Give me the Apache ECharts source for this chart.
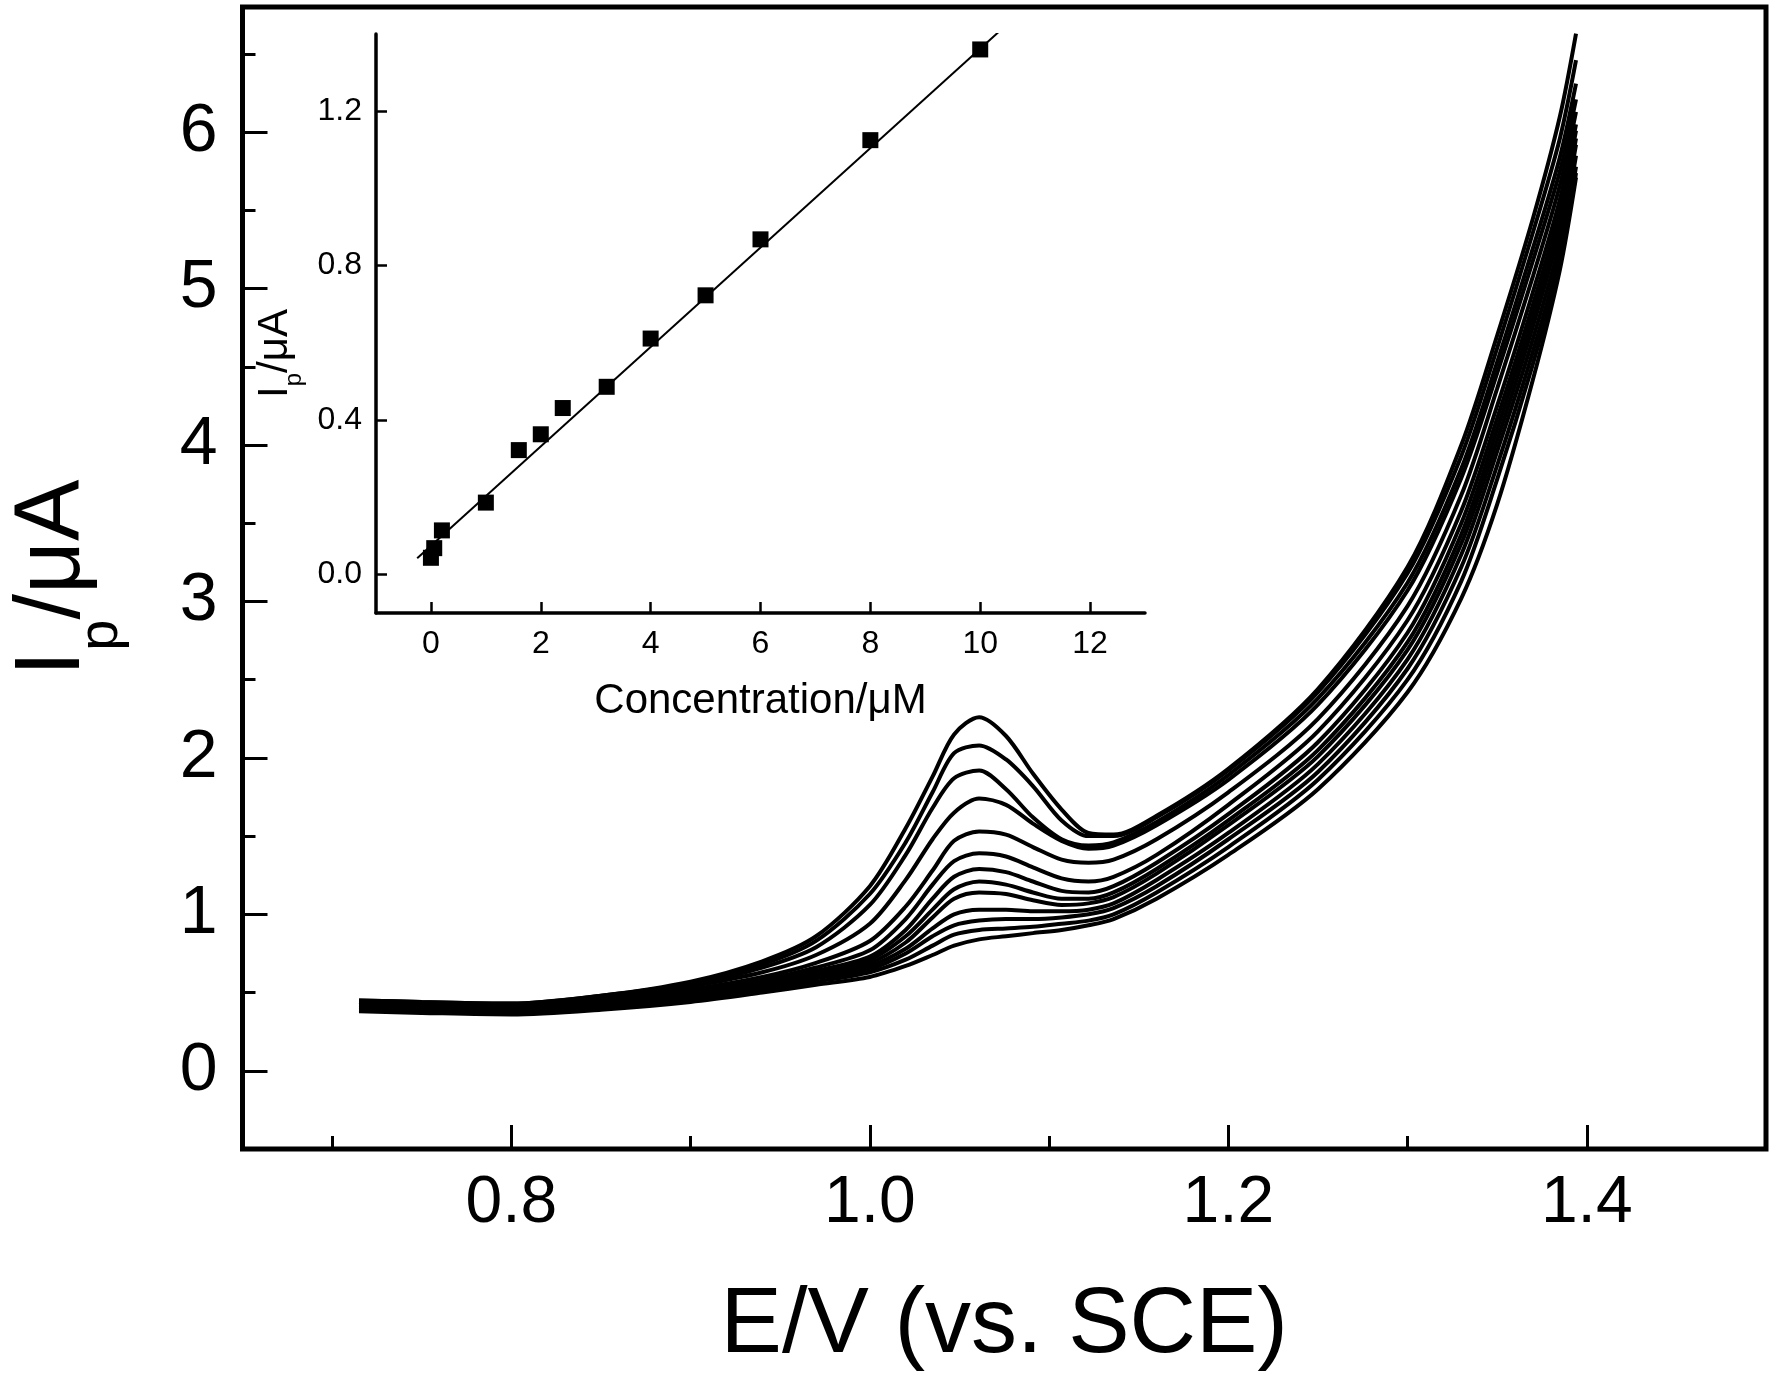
<!DOCTYPE html>
<html>
<head>
    <meta charset="utf-8">
    <title>DPV curves</title>
    <script src="https://cdn.jsdelivr.net/npm/echarts@6/dist/echarts.min.js"></script>
    <style>
        html, body { margin: 0; padding: 0; background: #fff; }
    </style>
</head>
<body>
    <div id="chart" style="width: 1772px; height: 1381px;"></div>

    <script>
        // potential grid (V vs. SCE)
        var potentials = [0.715, 0.75, 0.80, 0.85, 0.90, 0.94, 0.97, 1.00, 1.02, 1.035, 1.047, 1.061, 1.076,
            1.091, 1.107, 1.122, 1.136, 1.16, 1.20, 1.25, 1.30, 1.33, 1.35, 1.37, 1.385, 1.394];

        // peak currents (uA), one row per scan, highest concentration first
        var currentCurves = [
            [0.45, 0.44, 0.43, 0.48, 0.57, 0.70, 0.86, 1.18, 1.55, 1.88, 2.15, 2.26, 2.14, 1.90, 1.67, 1.52, 1.51, 1.63, 1.93, 2.44, 3.22, 4.00, 4.70, 5.45, 6.10, 6.63],
            [0.45, 0.44, 0.43, 0.48, 0.56, 0.68, 0.83, 1.13, 1.46, 1.78, 2.03, 2.08, 1.99, 1.82, 1.60, 1.50, 1.50, 1.62, 1.92, 2.42, 3.18, 3.93, 4.62, 5.36, 5.96, 6.46],
            [0.44, 0.43, 0.42, 0.47, 0.55, 0.66, 0.79, 1.06, 1.38, 1.68, 1.87, 1.92, 1.80, 1.62, 1.48, 1.44, 1.46, 1.59, 1.89, 2.38, 3.12, 3.85, 4.53, 5.26, 5.84, 6.31],
            [0.44, 0.43, 0.42, 0.46, 0.54, 0.63, 0.74, 0.94, 1.22, 1.48, 1.65, 1.74, 1.70, 1.58, 1.47, 1.42, 1.44, 1.57, 1.86, 2.34, 3.07, 3.79, 4.46, 5.18, 5.75, 6.21],
            [0.43, 0.42, 0.41, 0.45, 0.52, 0.60, 0.69, 0.83, 1.05, 1.28, 1.47, 1.53, 1.51, 1.43, 1.35, 1.33, 1.35, 1.48, 1.78, 2.25, 2.97, 3.68, 4.36, 5.08, 5.66, 6.13],
            [0.43, 0.42, 0.40, 0.44, 0.51, 0.58, 0.66, 0.77, 0.97, 1.19, 1.34, 1.39, 1.37, 1.30, 1.23, 1.21, 1.24, 1.38, 1.70, 2.17, 2.88, 3.58, 4.25, 4.98, 5.57, 6.05],
            [0.42, 0.41, 0.40, 0.43, 0.50, 0.57, 0.64, 0.73, 0.90, 1.10, 1.24, 1.29, 1.27, 1.21, 1.15, 1.14, 1.18, 1.33, 1.64, 2.10, 2.80, 3.50, 4.17, 4.90, 5.50, 6.01],
            [0.42, 0.41, 0.39, 0.43, 0.49, 0.56, 0.62, 0.71, 0.86, 1.03, 1.16, 1.21, 1.19, 1.14, 1.10, 1.10, 1.14, 1.29, 1.60, 2.05, 2.74, 3.43, 4.10, 4.83, 5.44, 5.96],
            [0.41, 0.40, 0.39, 0.42, 0.48, 0.55, 0.61, 0.69, 0.82, 0.98, 1.10, 1.14, 1.13, 1.09, 1.06, 1.07, 1.11, 1.26, 1.57, 2.01, 2.69, 3.37, 4.03, 4.76, 5.38, 5.92],
            [0.40, 0.39, 0.38, 0.41, 0.47, 0.54, 0.60, 0.67, 0.78, 0.91, 1.00, 1.03, 1.03, 1.02, 1.02, 1.03, 1.07, 1.22, 1.52, 1.96, 2.63, 3.30, 3.96, 4.68, 5.30, 5.85],
            [0.40, 0.39, 0.37, 0.40, 0.46, 0.53, 0.59, 0.65, 0.75, 0.86, 0.93, 0.96, 0.97, 0.97, 0.98, 1.00, 1.04, 1.18, 1.48, 1.91, 2.57, 3.22, 3.87, 4.60, 5.22, 5.78],
            [0.39, 0.38, 0.37, 0.40, 0.45, 0.52, 0.57, 0.63, 0.71, 0.80, 0.87, 0.90, 0.91, 0.92, 0.94, 0.96, 1.00, 1.14, 1.43, 1.86, 2.50, 3.13, 3.78, 4.52, 5.16, 5.74],
            [0.38, 0.37, 0.36, 0.39, 0.44, 0.50, 0.55, 0.60, 0.67, 0.74, 0.80, 0.84, 0.86, 0.88, 0.90, 0.93, 0.97, 1.10, 1.38, 1.80, 2.42, 3.02, 3.62, 4.42, 5.12, 5.71]
        ];

        // inset: calibration points
        var concentrations = [0, 0.06, 0.2, 1, 1.6, 2, 2.4, 3.2, 4, 5, 6, 8, 10];
        var peakCurrents = [0.043, 0.068, 0.114, 0.186, 0.322, 0.363, 0.431, 0.486, 0.611, 0.723, 0.868, 1.125, 1.360];
        // fitted line, end points
        var fitX = [-0.25, 10.45];
        var fitY = [0.042, 1.42];

        // tick values
        var mainXTicks = [0.8, 1.0, 1.2, 1.4];
        var mainXMinor = [0.7, 0.9, 1.1, 1.3];
        var mainYTicks = [0, 1, 2, 3, 4, 5, 6];
        var mainYMinor = [0.5, 1.5, 2.5, 3.5, 4.5, 5.5, 6.5];
        var insetXTicks = [0, 2, 4, 6, 8, 10, 12];
        var insetYTicks = [0, 0.4, 0.8, 1.2];

        var FONT = 'Liberation Sans, Arial, sans-serif';

        var chart = echarts.init(document.getElementById('chart'), null, { renderer: 'canvas' });

        function pairs(xs, ys) {
            return xs.map(function (x, i) { return [x, ys[i]]; });
        }

        var series = currentCurves.map(function (row) {
            return {
                type: 'line',
                xAxisIndex: 0,
                yAxisIndex: 0,
                data: pairs(potentials, row),
                showSymbol: false,
                smooth: 0.3,
                lineStyle: { color: '#000', width: 4 },
                silent: true
            };
        });

        series.push({
            type: 'line',
            xAxisIndex: 2,
            yAxisIndex: 2,
            data: pairs(fitX, fitY),
            showSymbol: false,
            lineStyle: { color: '#000', width: 2 },
            silent: true
        });
        series.push({
            type: 'scatter',
            xAxisIndex: 2,
            yAxisIndex: 2,
            data: pairs(concentrations, peakCurrents),
            symbol: 'rect',
            symbolSize: 16,
            itemStyle: { color: '#000', opacity: 1 },
            silent: true
        });

        var option = {
            animation: false,
            backgroundColor: '#fff',
            grid: [
                {
                    left: 226, right: 6, top: 7, bottom: 232,
                    show: true, borderColor: '#000', borderWidth: 5,
                    backgroundColor: 'transparent'
                },
                { left: 376, top: 34, width: 769, height: 579 }
            ],
            xAxis: [
                {
                    type: 'value', gridIndex: 0, min: 0.65, max: 1.5, position: 'bottom',
                    axisLine: { show: false, onZero: false },
                    splitLine: { show: false },
                    axisTick: { show: true, inside: true, length: 24, customValues: mainXTicks, lineStyle: { color: '#000', width: 3 } },
                    axisLabel: {
                        customValues: mainXTicks, margin: 22, color: '#000', fontSize: 66, fontFamily: FONT,
                        formatter: function (v) { return v.toFixed(1); }
                    },
                    name: 'E/V (vs. SCE)', nameLocation: 'middle', nameGap: 132,
                    nameTextStyle: { color: '#000', fontSize: 92, fontFamily: FONT }
                },
                {
                    type: 'value', gridIndex: 0, min: 0.65, max: 1.5, position: 'bottom',
                    axisLine: { show: false, onZero: false },
                    splitLine: { show: false },
                    axisTick: { show: true, inside: true, length: 13, customValues: mainXMinor, lineStyle: { color: '#000', width: 3 } },
                    axisLabel: { show: false }
                },
                {
                    type: 'value', gridIndex: 1, min: -1, max: 13, position: 'bottom',
                    axisLine: { show: true, onZero: false, lineStyle: { color: '#000', width: 3.5 } },
                    splitLine: { show: false },
                    axisTick: { show: true, inside: true, length: 11, customValues: insetXTicks, lineStyle: { color: '#000', width: 2.5 } },
                    axisLabel: { customValues: insetXTicks, margin: 15, color: '#000', fontSize: 32, fontFamily: FONT },
                    name: 'Concentration/μM', nameLocation: 'middle', nameGap: 67,
                    nameTextStyle: { color: '#000', fontSize: 42, fontFamily: FONT }
                }
            ],
            yAxis: [
                {
                    type: 'value', gridIndex: 0, min: -0.5, max: 6.8, position: 'left',
                    axisLine: { show: false, onZero: false },
                    splitLine: { show: false },
                    axisTick: { show: true, inside: true, length: 25, customValues: mainYTicks, lineStyle: { color: '#000', width: 3 } },
                    axisLabel: { customValues: mainYTicks, margin: 25, color: '#000', fontSize: 68, fontFamily: FONT },
                    name: '{a|I}{b|p}{a|/μA}', nameLocation: 'middle', nameRotate: 90, nameGap: 113,
                    nameTextStyle: {
                        color: '#000', fontFamily: FONT,
                        rich: {
                            a: { fontSize: 92, lineHeight: 151, fontFamily: FONT, color: '#000' },
                            b: { fontSize: 56, lineHeight: 151, verticalAlign: 'bottom', fontFamily: FONT, color: '#000' }
                        }
                    }
                },
                {
                    type: 'value', gridIndex: 0, min: -0.5, max: 6.8, position: 'left',
                    axisLine: { show: false, onZero: false },
                    splitLine: { show: false },
                    axisTick: { show: true, inside: true, length: 13, customValues: mainYMinor, lineStyle: { color: '#000', width: 3 } },
                    axisLabel: { show: false }
                },
                {
                    type: 'value', gridIndex: 1, min: -0.1, max: 1.4, position: 'left',
                    axisLine: { show: true, onZero: false, lineStyle: { color: '#000', width: 3.5 } },
                    splitLine: { show: false },
                    axisTick: { show: true, inside: true, length: 11, customValues: insetYTicks, lineStyle: { color: '#000', width: 2.5 } },
                    axisLabel: {
                        customValues: insetYTicks, margin: 14, color: '#000', fontSize: 32, fontFamily: FONT,
                        formatter: function (v) { return v.toFixed(1); }
                    },
                    name: '{a|I}{b|p}{a|/μA}', nameLocation: 'middle', nameRotate: 90, nameGap: 70,
                    nameTextStyle: {
                        color: '#000', fontFamily: FONT, padding: [0, 60, 0, 0],
                        rich: {
                            a: { fontSize: 42, lineHeight: 61, fontFamily: FONT, color: '#000' },
                            b: { fontSize: 24, lineHeight: 61, verticalAlign: 'bottom', fontFamily: FONT, color: '#000' }
                        }
                    }
                }
            ],
            series: series
        };

        chart.setOption(option);
    </script>
</body>
</html>
